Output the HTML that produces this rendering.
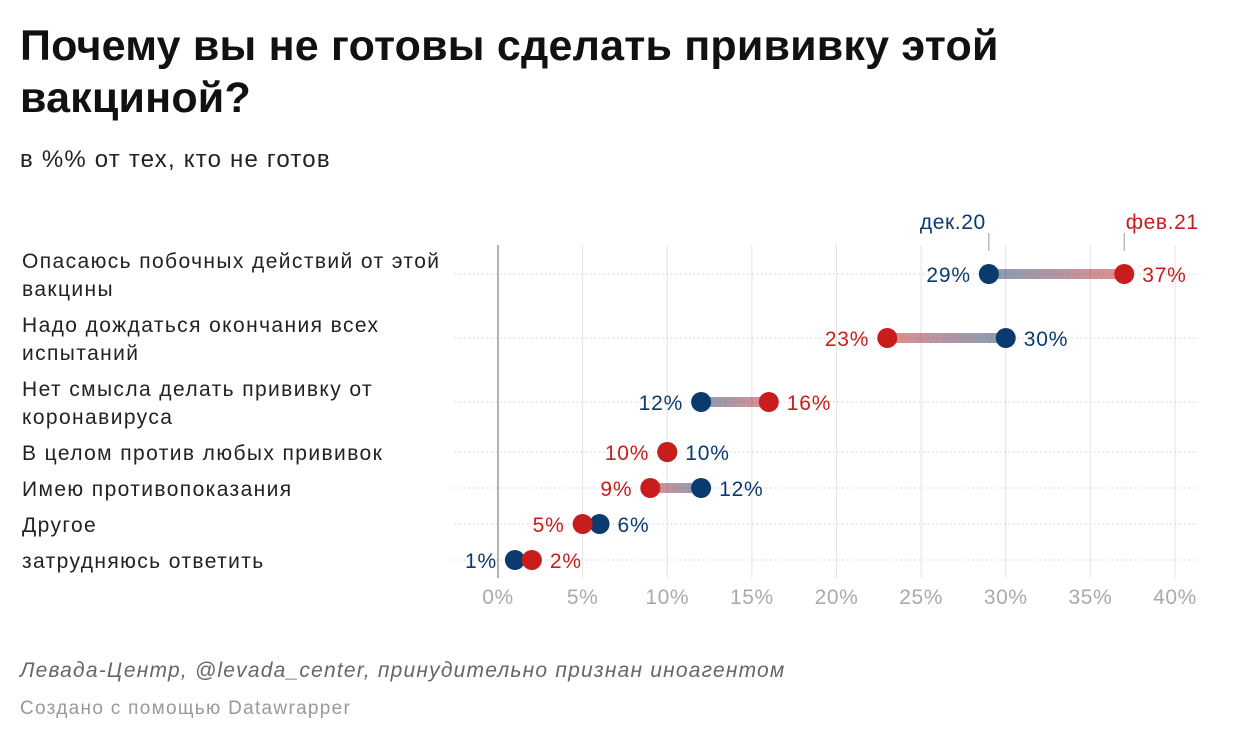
<!DOCTYPE html>
<html><head><meta charset="utf-8">
<style>
body{margin:0;background:#fff;width:1240px;height:742px;overflow:hidden;font-family:"Liberation Sans","DejaVu Sans",sans-serif;}
.t{position:absolute;left:20px;top:20px;font-size:43px;font-weight:bold;color:#111;line-height:52px;width:1150px;letter-spacing:0.2px;}
.s{position:absolute;left:20px;top:146px;font-size:24px;color:#222;letter-spacing:1.2px;}
.f1{position:absolute;left:20px;top:659px;font-size:21px;font-style:italic;color:#666;letter-spacing:1.2px;}
.f2{position:absolute;left:20px;top:698px;font-size:19px;color:#999;letter-spacing:1.3px;}
svg{position:absolute;left:0;top:0;}
</style></head><body>
<div class="t">Почему вы не готовы сделать прививку этой<br>вакциной?</div>
<div class="s">в %% от тех, кто не готов</div>
<div class="f1">Левада-Центр, @levada_center, принудительно признан иноагентом</div>
<div class="f2">Создано с помощью Datawrapper</div>
<svg id="c" width="1240" height="742"></svg>
<script>
const categories=[["Опасаюсь побочных действий от этой","вакцины"],["Надо дождаться окончания всех","испытаний"],["Нет смысла делать прививку от","коронавируса"],["В целом против любых прививок"],["Имею противопоказания"],["Другое"],["затрудняюсь ответить"]];
const dec20=[29,30,12,10,12,6,1];
const feb21=[37,23,16,10,9,5,2];
const ticks=[0,5,10,15,20,25,30,35,40];
const rowY=[274,338,402,452,488,524,560];
const BLUE="#0b3a6e",RED="#c71e1d";
const x=v=>498+v*(1175-498)/40;
const svg=document.getElementById('c');const NS="http://www.w3.org/2000/svg";
function mk(t,a,p){const e=document.createElementNS(NS,t);for(const k in a)e.setAttribute(k,a[k]);(p||svg).appendChild(e);return e;}
const defs=mk('defs',{});
ticks.forEach(t=>{
 const l=mk('line',{x1:x(t),x2:x(t),y1:245,y2:578,stroke:t==0?'#999':'#e3e3e3','stroke-width':t==0?1.5:1});
 
 const tx=mk('text',{x:x(t),y:604,'text-anchor':'middle','font-size':21,fill:'#aaa','letter-spacing':0.6});tx.textContent=t+'%';
 
});
categories.forEach((c,i)=>{
 const y=rowY[i];
 const g=mk('line',{x1:455,x2:1198,y1:y,y2:y,stroke:'#ccc','stroke-dasharray':'1.5 3'});
 
 const lt=mk('text',{x:22,'font-size':21,fill:'#222','letter-spacing':1.4});
 
 c.forEach((s,j)=>{const ts=mk('tspan',{x:22,y:c.length>1?y-6+j*28:y+8},lt);ts.textContent=s;});
 const d=dec20[i],f=feb21[i];
 const gid='g'+i;const lg=mk('linearGradient',{id:gid,gradientUnits:'userSpaceOnUse',x1:x(d),x2:x(f),y1:0,y2:0},defs);
 mk('stop',{offset:0,'stop-color':BLUE,'stop-opacity':0.5},lg);mk('stop',{offset:1,'stop-color':RED,'stop-opacity':0.5},lg);
 if(d!==f){const ln=mk('line',{x1:x(d),x2:x(f),y1:y,y2:y,stroke:`url(#${gid})`,'stroke-width':10});
 }
 const decLeft=d<f;
 const pts=[[d,BLUE,decLeft,'dot-dec20'],[f,RED,!decLeft,'dot-feb21']];
 pts.forEach(p=>{
  const cc=mk('circle',{cx:x(p[0]),cy:y,r:10,fill:p[1]});
  
  const left=p[2];
  const lb=mk('text',{x:left?x(Math.min(d,f))-18:x(Math.max(d,f))+18,y:y+8,'text-anchor':left?'end':'start','font-size':21,fill:p[1],'letter-spacing':0.8});
  lb.textContent=p[0]+'%';
  
 });
});
[[dec20[0],'дек.20',BLUE],[feb21[0],'фев.21',RED]].forEach(l=>{
 const ln=mk('line',{x1:x(l[0]),x2:x(l[0]),y1:233,y2:251,stroke:'#999'});
 
 const t=mk('text',{x:x(l[0])+(l[2]==RED?38:-36),y:229,'text-anchor':'middle','font-size':21,fill:l[2],'letter-spacing':0.6});
 t.textContent=l[1];
});
</script>
</body></html>
